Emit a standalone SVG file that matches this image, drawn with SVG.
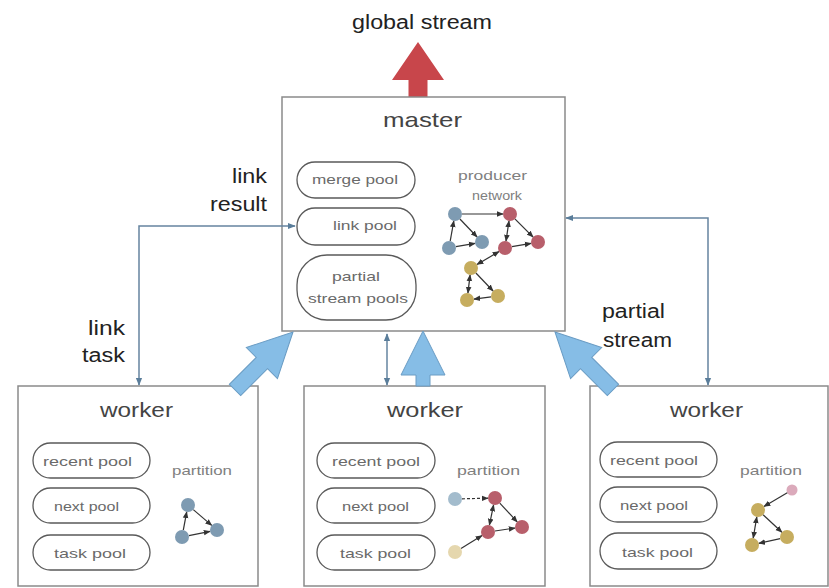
<svg xmlns="http://www.w3.org/2000/svg" width="829" height="588" viewBox="0 0 829 588">
<style>
.box{fill:#fff;stroke:#8a8a8a;stroke-width:1.5}
.pool{fill:#fff;stroke:#5a5a5a;stroke-width:1.3}
.t{font-family:"Liberation Sans",Arial,sans-serif}
.title{font-size:21px;fill:#444}
.lbl{font-size:20px;fill:#222}
.pt{font-size:13.5px;fill:#6a6a6a}
.sm{font-size:13px;fill:#808080}
.e{stroke:#333;stroke-width:1.2;fill:none;marker-end:url(#ah)}
.e2{stroke:#333;stroke-width:1.2;fill:none;marker-end:url(#ah);marker-start:url(#ah)}
.conn{stroke:#6584a0;stroke-width:1.5;fill:none;marker-end:url(#ca);marker-start:url(#ca)}
.big{fill:#86bde6;stroke:#6a9cc4;stroke-width:1}
.nb{fill:#7e9bb2}.nr{fill:#b85f6b}.ny{fill:#c6ad5f}
</style>
<defs>
<marker id="ah" viewBox="0 0 10 10" refX="9" refY="5" markerWidth="7" markerHeight="7" markerUnits="userSpaceOnUse" orient="auto-start-reverse"><path d="M0,1 L10,5 L0,9z" fill="#333"/></marker>
<marker id="ca" viewBox="0 0 10 10" refX="9" refY="5" markerWidth="8" markerHeight="8" markerUnits="userSpaceOnUse" orient="auto-start-reverse"><path d="M0,1 L10,5 L0,9z" fill="#5a7d9a"/></marker>
</defs>
<rect width="829" height="588" fill="#fff"/>

<g id="global-stream">
<text class="t lbl" x="352" y="29" textLength="140" lengthAdjust="spacingAndGlyphs">global stream</text>
<polygon points="418,42 444,80 427.5,80 427.5,97 408.5,97 408.5,80 392,80" fill="#c8464b"/>
</g>

<g id="master">
<rect class="box" x="282" y="97" width="283" height="234"/>
<text class="t title" x="383" y="127" textLength="79" lengthAdjust="spacingAndGlyphs">master</text>
<rect class="pool" x="297" y="162" width="118" height="36" rx="18"/>
<text class="t pt" x="312" y="184" textLength="86" lengthAdjust="spacingAndGlyphs">merge pool</text>
<rect class="pool" x="297" y="208" width="118" height="37" rx="18"/>
<text class="t pt" x="333" y="230" textLength="64" lengthAdjust="spacingAndGlyphs">link pool</text>
<rect class="pool" x="297" y="255" width="119" height="65" rx="30"/>
<text class="t pt" x="332" y="281" textLength="48" lengthAdjust="spacingAndGlyphs">partial</text>
<text class="t pt" x="308" y="303" textLength="100" lengthAdjust="spacingAndGlyphs">stream pools</text>
<text class="t sm" x="458" y="180" textLength="69" lengthAdjust="spacingAndGlyphs">producer</text>
<text class="t sm" x="472" y="200" textLength="50" lengthAdjust="spacingAndGlyphs">network</text>
<g id="producer-network">
<line class="e" x1="462" y1="214" x2="503" y2="214"/>
<line class="e" x1="459.9" y1="219" x2="477.1" y2="237"/>
<line class="e" x1="455.9" y1="246.7" x2="475.1" y2="243.3"/>
<line class="e" x1="450.2" y1="241.1" x2="453.8" y2="220.9"/>
<line class="e" x1="514.9" y1="218.9" x2="533.1" y2="237.1"/>
<line class="e" x1="511.9" y1="246.7" x2="531.1" y2="243.3"/>
<line class="e2" x1="509" y1="220.9" x2="506" y2="241.1"/>
<line class="e2" x1="499" y1="251.6" x2="477" y2="264.4"/>
<line class="e" x1="475.9" y1="273" x2="493.1" y2="291"/>
<line class="e2" x1="470.1" y1="274.9" x2="467.9" y2="293.1"/>
<line class="e" x1="491.1" y1="296.9" x2="473.9" y2="299.1"/>
<circle class="nb" cx="455" cy="214" r="7"/>
<circle class="nb" cx="449" cy="248" r="7"/>
<circle class="nb" cx="482" cy="242" r="7"/>
<circle class="nr" cx="510" cy="214" r="7"/>
<circle class="nr" cx="538" cy="242" r="7"/>
<circle class="nr" cx="505" cy="248" r="7"/>
<circle class="ny" cx="471" cy="268" r="7"/>
<circle class="ny" cx="467" cy="300" r="7"/>
<circle class="ny" cx="498" cy="296" r="7"/>
</g>
</g>

<g id="worker-left">
<rect class="box" x="18" y="386" width="240" height="200"/>
<text class="t title" x="100" y="417" textLength="73" lengthAdjust="spacingAndGlyphs">worker</text>
<rect class="pool" x="33" y="443" width="117" height="35" rx="17.5"/>
<text class="t pt" x="43" y="466" textLength="89" lengthAdjust="spacingAndGlyphs">recent pool</text>
<rect class="pool" x="33" y="488" width="117" height="35" rx="17.5"/>
<text class="t pt" x="54" y="511" textLength="65" lengthAdjust="spacingAndGlyphs">next pool</text>
<rect class="pool" x="33" y="535" width="117" height="35" rx="17.5"/>
<text class="t pt" x="54" y="558" textLength="72" lengthAdjust="spacingAndGlyphs">task pool</text>
<text class="t sm" x="172" y="475" textLength="60" lengthAdjust="spacingAndGlyphs">partition</text>
<line class="e" x1="193.3" y1="509.6" x2="211.7" y2="525.4"/>
<line class="e" x1="188.9" y1="535.6" x2="210.1" y2="531.4"/>
<line class="e" x1="183.3" y1="530.1" x2="186.7" y2="511.9"/>
<circle class="nb" cx="188" cy="505" r="7"/>
<circle class="nb" cx="217" cy="530" r="7"/>
<circle class="nb" cx="182" cy="537" r="7"/>
</g>

<g id="worker-middle">
<rect class="box" x="304" y="386" width="241" height="200"/>
<text class="t title" x="387" y="417" textLength="76" lengthAdjust="spacingAndGlyphs">worker</text>
<rect class="pool" x="317" y="443" width="118" height="35" rx="17.5"/>
<text class="t pt" x="332" y="466" textLength="88" lengthAdjust="spacingAndGlyphs">recent pool</text>
<rect class="pool" x="317" y="488" width="118" height="35" rx="17.5"/>
<text class="t pt" x="342" y="511" textLength="67" lengthAdjust="spacingAndGlyphs">next pool</text>
<rect class="pool" x="317" y="535" width="118" height="35" rx="17.5"/>
<text class="t pt" x="340" y="558" textLength="71" lengthAdjust="spacingAndGlyphs">task pool</text>
<text class="t sm" x="457" y="475" textLength="63" lengthAdjust="spacingAndGlyphs">partition</text>
<line class="e" x1="462" y1="498.8" x2="488" y2="498.2" stroke-dasharray="3,2"/>
<line class="e" x1="499.8" y1="503.1" x2="517.2" y2="521.9"/>
<line class="e" x1="494.9" y1="531" x2="515.1" y2="528"/>
<line class="e2" x1="493.6" y1="504.9" x2="489.4" y2="525.1"/>
<line class="e" x1="461" y1="548.4" x2="482" y2="535.6" stroke="#9aa0a5"/>
<circle cx="455" cy="499" r="7" fill="#a3bccd"/>
<circle class="nr" cx="495" cy="498" r="7"/>
<circle class="nr" cx="522" cy="527" r="7"/>
<circle class="nr" cx="488" cy="532" r="7"/>
<circle cx="455" cy="552" r="7" fill="#e5d7ae"/>
</g>

<g id="worker-right">
<rect class="box" x="590" y="386" width="238" height="200"/>
<text class="t title" x="670" y="417" textLength="73" lengthAdjust="spacingAndGlyphs">worker</text>
<rect class="pool" x="600" y="442" width="117" height="35" rx="17.5"/>
<text class="t pt" x="610" y="465" textLength="88" lengthAdjust="spacingAndGlyphs">recent pool</text>
<rect class="pool" x="600" y="487" width="117" height="35" rx="17.5"/>
<text class="t pt" x="620" y="510" textLength="68" lengthAdjust="spacingAndGlyphs">next pool</text>
<rect class="pool" x="600" y="533" width="117" height="36" rx="18"/>
<text class="t pt" x="622" y="557" textLength="71" lengthAdjust="spacingAndGlyphs">task pool</text>
<text class="t sm" x="740" y="475" textLength="62" lengthAdjust="spacingAndGlyphs">partition</text>
<line class="e" x1="787.7" y1="492.5" x2="764" y2="506.4" stroke="#d8aeb9"/>
<line class="e" x1="763.1" y1="514.8" x2="781.9" y2="532.2"/>
<line class="e2" x1="756.8" y1="516.9" x2="753.2" y2="538.1"/>
<line class="e" x1="780.2" y1="538.6" x2="758.8" y2="543.4"/>
<circle cx="792" cy="490" r="5.5" fill="#dbaabb"/>
<circle class="ny" cx="758" cy="510" r="7"/>
<circle class="ny" cx="752" cy="545" r="7"/>
<circle class="ny" cx="787" cy="537" r="7"/>
</g>

<g id="connectors">
<path class="conn" d="M295,226 H139 V385"/>
<path class="conn" d="M566,218 H708 V385"/>
<path class="conn" d="M387,334 V385"/>
<polygon class="big" transform="translate(293,332) rotate(45)" points="0,0 22,44 8,44 8,82 -8,82 -8,44 -22,44"/>
<polygon class="big" transform="translate(423,331)" points="0,0 22,44 7,44 7,55 -7,55 -7,44 -22,44"/>
<polygon class="big" transform="translate(555,332) rotate(-45)" points="0,0 22,44 8,44 8,82 -8,82 -8,44 -22,44"/>
</g>

<g id="labels">
<text class="t lbl" x="232" y="183" textLength="35" lengthAdjust="spacingAndGlyphs">link</text>
<text class="t lbl" x="210" y="211" textLength="57" lengthAdjust="spacingAndGlyphs">result</text>
<text class="t lbl" x="88" y="335" textLength="37" lengthAdjust="spacingAndGlyphs">link</text>
<text class="t lbl" x="82" y="362" textLength="43" lengthAdjust="spacingAndGlyphs">task</text>
<text class="t lbl" x="602" y="318" textLength="63" lengthAdjust="spacingAndGlyphs">partial</text>
<text class="t lbl" x="603" y="347" textLength="69" lengthAdjust="spacingAndGlyphs">stream</text>
</g>
</svg>
